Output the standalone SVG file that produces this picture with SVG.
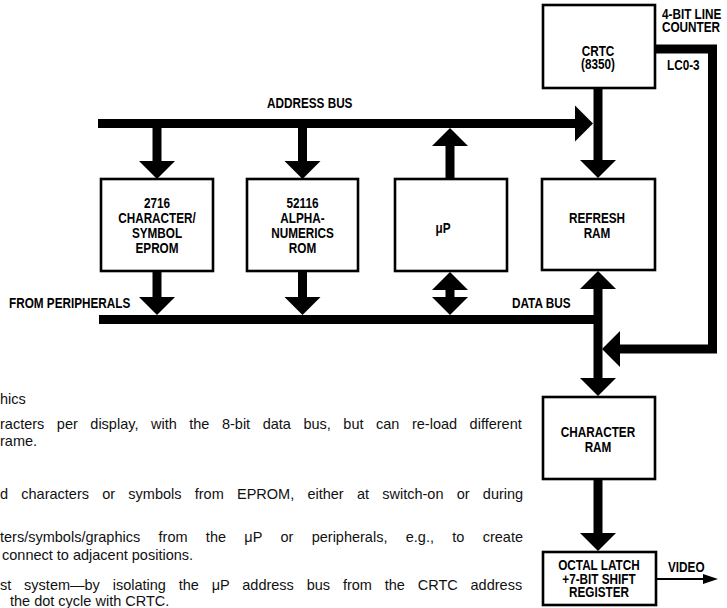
<svg xmlns="http://www.w3.org/2000/svg" width="727" height="608" viewBox="0 0 727 608">
<defs>
<style>
.box{fill:#fff;stroke:#000;stroke-width:2.6}
.lbl{font-family:"Liberation Sans",Arial,sans-serif;font-weight:bold;font-size:14px;fill:#000;text-anchor:middle}
.tag{font-family:"Liberation Sans",Arial,sans-serif;font-weight:bold;font-size:14px;fill:#000}
.bus{stroke:#000;stroke-width:9;fill:none}
.thin{stroke:#000;stroke-width:2.2;fill:none}
.body{font-family:"Liberation Sans",Arial,sans-serif;font-size:14.5px;fill:#111}
</style>
<path id="ah" d="M0,0 L-18,-18 L18,-18 Z" fill="#000"/>
</defs>
<rect width="727" height="608" fill="#fff"/>

<g id="connectors">
  <path class="bus" d="M98,123.5 H576"/>
  <use href="#ah" transform="translate(593,123.5) rotate(-90)"/>
  <path class="bus" d="M157,128 V162"/>
  <use href="#ah" transform="translate(157,179)"/>
  <path class="bus" d="M302.5,128 V162"/>
  <use href="#ah" transform="translate(302.5,179)"/>
  <path class="bus" d="M450,179 V145"/>
  <use href="#ah" transform="translate(450,128) rotate(180)"/>
  <path class="bus" d="M598,88 V161"/>
  <use href="#ah" transform="translate(598,178)"/>
  <path class="bus" d="M157,271 V298"/>
  <use href="#ah" transform="translate(157,315)"/>
  <path class="bus" d="M302.5,271 V298"/>
  <use href="#ah" transform="translate(302.5,315)"/>
  <use href="#ah" transform="translate(450,272) rotate(180)"/>
  <path class="bus" d="M450,289 V298"/>
  <use href="#ah" transform="translate(450,315)"/>
  <path class="bus" d="M99,319.5 H598"/>
  <path class="bus" d="M598,288 V379"/>
  <use href="#ah" transform="translate(598,271) rotate(180)"/>
  <use href="#ah" transform="translate(598,396)"/>
  <path class="bus" d="M655,49 H712.5 V349 H619"/>
  <use href="#ah" transform="translate(602,349) rotate(90)"/>
  <path class="bus" d="M598,479 V534"/>
  <use href="#ah" transform="translate(598,551)"/>
  <path class="thin" d="M656,579 H705"/>
  <polygon points="703,574 718,579 703,584" fill="#000"/>
  <text class="tag" transform="translate(267,108) scale(0.84,1)">ADDRESS BUS</text>
  <text class="tag" transform="translate(9,308) scale(0.84,1)">FROM PERIPHERALS</text>
  <text class="tag" transform="translate(512,308) scale(0.84,1)">DATA BUS</text>
  <text class="tag" transform="translate(662,18.5) scale(0.84,1)">4-BIT LINE</text>
  <text class="tag" transform="translate(662,32) scale(0.84,1)">COUNTER</text>
  <text class="tag" transform="translate(667,70) scale(0.84,1)">LC0-3</text>
  <text class="tag" transform="translate(668,572) scale(0.84,1)">VIDEO</text>
</g>

<g id="crtc">
  <rect class="box" x="543" y="5" width="112" height="83"/>
  <text class="lbl" transform="translate(598,55.5) scale(0.84,1)">CRTC</text>
  <text class="lbl" transform="translate(598,69) scale(0.84,1)">(8350)</text>
</g>
<g id="eprom">
  <rect class="box" x="101" y="179" width="112" height="92"/>
  <text class="lbl" transform="translate(157,208) scale(0.84,1)">2716</text>
  <text class="lbl" transform="translate(157,223) scale(0.84,1)">CHARACTER/</text>
  <text class="lbl" transform="translate(157,238) scale(0.84,1)">SYMBOL</text>
  <text class="lbl" transform="translate(157,253) scale(0.84,1)">EPROM</text>
</g>
<g id="rom">
  <rect class="box" x="247" y="179" width="111" height="92"/>
  <text class="lbl" transform="translate(302.5,208) scale(0.84,1)">52116</text>
  <text class="lbl" transform="translate(302.5,223) scale(0.84,1)">ALPHA-</text>
  <text class="lbl" transform="translate(302.5,238) scale(0.84,1)">NUMERICS</text>
  <text class="lbl" transform="translate(302.5,253) scale(0.84,1)">ROM</text>
</g>
<g id="up">
  <rect class="box" x="395" y="179" width="112" height="92"/>
  <text class="lbl" transform="translate(443,233) scale(0.84,1)">μP</text>
</g>
<g id="refresh-ram">
  <rect class="box" x="542" y="179" width="113" height="91"/>
  <text class="lbl" transform="translate(597,223) scale(0.84,1)">REFRESH</text>
  <text class="lbl" transform="translate(597,238) scale(0.84,1)">RAM</text>
</g>
<g id="character-ram">
  <rect class="box" x="543" y="397" width="112" height="82"/>
  <text class="lbl" transform="translate(598,437) scale(0.84,1)">CHARACTER</text>
  <text class="lbl" transform="translate(598,452) scale(0.84,1)">RAM</text>
</g>
<g id="octal-latch">
  <rect class="box" x="543" y="552" width="113" height="53"/>
  <text class="lbl" transform="translate(599,570) scale(0.84,1)">OCTAL LATCH</text>
  <text class="lbl" transform="translate(599,583.5) scale(0.84,1)">+7-BIT SHIFT</text>
  <text class="lbl" transform="translate(599,597) scale(0.84,1)">REGISTER</text>
</g>

<g id="body-text">
  <text class="body" x="0" y="404">hics</text>
  <text class="body" x="0" y="429" word-spacing="8.5">racters per display, with the 8-bit data bus, but can re-load different</text>
  <text class="body" x="0" y="446">rame.</text>
  <text class="body" x="0" y="499" word-spacing="9.2">d characters or symbols from EPROM, either at switch-on or during</text>
  <text class="body" x="0" y="542" word-spacing="14.3">ters/symbols/graphics from the μP or peripherals, e.g., to create</text>
  <text class="body" x="2" y="560">connect to adjacent positions.</text>
  <text class="body" x="0" y="590" word-spacing="8.8">st system—by isolating the μP address bus from the CRTC address</text>
  <text class="body" x="10" y="606">the dot cycle with CRTC.</text>
</g>
</svg>
